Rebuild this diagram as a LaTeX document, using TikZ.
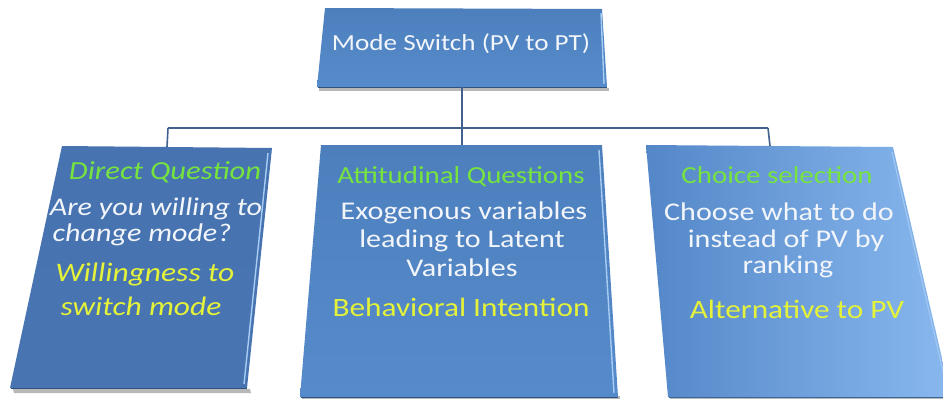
\documentclass[tikz,border=0pt]{standalone}
\usepackage{fontspec}
\setmainfont{Carlito}
\usepackage{graphicx}
\definecolor{boxA}{HTML}{4774B0}
\definecolor{boxB}{HTML}{4875B2}
\definecolor{midA}{HTML}{4D7FBD}
\definecolor{midB}{HTML}{568BCB}
\definecolor{rA}{HTML}{5487C8}
\definecolor{rB}{HTML}{88B8EE}
\definecolor{conncol}{HTML}{41628F}
\definecolor{hilite}{HTML}{A8CDF4}
\definecolor{ttgreen}{HTML}{77E33F}
\definecolor{ttyellow}{HTML}{E4F23A}
\definecolor{ttwhite}{HTML}{F2F5FA}
\newcommand\sx[1]{\scalebox{1.18}[1]{#1}}
\begin{document}
\begin{tikzpicture}[x=1pt,y=-1pt,
  conn/.style={draw=conncol,line width=1.6pt},
  shadowfill/.style={fill=black,opacity=0.28},
  hl/.style={draw=hilite,line width=1.4pt},
  btm/.style={draw=boxA!70!black,line width=1pt},
  ttl/.style={anchor=base,inner sep=0pt,text=ttgreen,font=\fontsize{24.5}{28}\selectfont},
  bdy/.style={anchor=base,inner sep=0pt,text=ttwhite,font=\fontsize{25.5}{28}\selectfont},
  res/.style={anchor=base,inner sep=0pt,text=ttyellow,font=\fontsize{26.5}{28}\selectfont},
  toptxt/.style={anchor=base,inner sep=0pt,text=ttwhite,font=\fontsize{23}{27}\selectfont}]
\useasboundingbox (0,0) rectangle (943,399);
\fill[white] (0,0) rectangle (943,399);
\clip (0,0) rectangle (943,399);

% ---- top box
\fill[shadowfill] (319,88)--(609,88)--(609,91)--(319,91)--cycle;
\shade[top color=midA,bottom color=midB] (325,8)--(602,9)--(607,87)--(317,87)--cycle;
\draw[hl] (601,13)--(604,84);
\draw[btm] (318,87)--(607,87);

% ---- connectors
\coordinate (topB) at (462,87);
\coordinate (hub)  at (462,128);
\coordinate (hl)   at (168,128);
\coordinate (hr)   at (768,128);
\coordinate (Lt)   at (167,147);
\coordinate (Mt)   at (462,145);
\coordinate (Rt)   at (770,146);
\draw[conn] (topB) -- (hub);
\draw[conn] (hl) -- (hr);
\draw[conn] (hl) -- (Lt);
\draw[conn] (hub) -- (Mt);
\draw[conn] (hr) -- (Rt);

% ---- left box
\fill[shadowfill] (13,389)--(250,389)--(251,393)--(14,393)--cycle;
\shade[top color=boxA,bottom color=boxB] (62,146)--(272,148)--(247,388)--(10,388)--cycle;
\draw[hl] (268,153)--(244,384);
\draw[btm] (11,388)--(247,388);

% ---- middle box
\fill[shadowfill] (302,396)--(620,396)--(620,399)--(302,399)--cycle;
\shade[top color=midA,bottom color=midB] (321,145)--(602,145)--(618,397)--(300,397)--cycle;
\draw[hl] (599,150)--(614,393);
\draw[btm] (301,397)--(618,397);

% ---- right box
\fill[shadowfill] (670,397)--(955,397)--(955,400)--(670,400)--cycle;
\shade[shading angle=135,left color=rA,right color=rB] (646,145)--(893,147)--(951,397)--(668,397)--cycle;
\draw[draw=rB!80!white,line width=1.2pt] (892,152)--(945,380);
\draw[draw=rA!75!black,line width=1pt] (669,397)--(951,397);

% ---- texts
\node[toptxt] (t1) at (461,50) {\sx{Mode Switch (PV to PT)}};

\node[ttl,font=\fontsize{26}{28}\selectfont\itshape] (l1) at (165,179) {\sx{Direct Question}};
\node[bdy,font=\fontsize{25.5}{28}\selectfont\itshape] (l2) at (156,215) {\sx{Are you willing to}};
\node[bdy,font=\fontsize{25.5}{28}\selectfont\itshape] (l3) at (142,241) {\sx{change mode?}};
\node[res,font=\fontsize{26.7}{28}\selectfont\itshape] (l4) at (145,281) {\sx{Willingness to}};
\node[res,font=\fontsize{26.7}{28}\selectfont\itshape] (l5) at (141,315) {\sx{switch mode}};

\node[ttl] (m1) at (461,183) {\sx{Attitudinal Questions}};
\node[bdy] (m2) at (464,219) {\sx{Exogenous variables}};
\node[bdy] (m3) at (462,247) {\sx{leading to Latent}};
\node[bdy] (m4) at (462,276) {\sx{Variables}};
\node[res] (m5) at (461,316) {\sx{Behavioral Intention}};

\node[ttl] (r1) at (777,183) {\sx{Choice selection}};
\node[bdy] (r2) at (779,220) {\sx{Choose what to do}};
\node[bdy] (r3) at (786,247) {\sx{instead of PV by}};
\node[bdy] (r4) at (788,273) {\sx{ranking}};
\node[res] (r5) at (797,318) {\sx{Alternative to PV}};
\end{tikzpicture}
\end{document}
